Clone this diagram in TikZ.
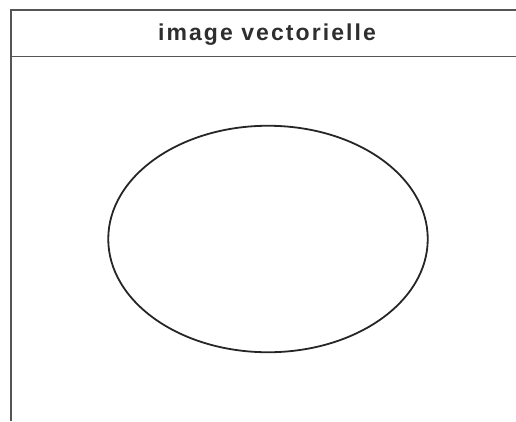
\documentclass[tikz,border=0pt]{standalone}
\usepackage{fontspec}
\usetikzlibrary{shapes.geometric}
\newfontfamily\titlefont[LetterSpace=9]{Liberation Sans}
\definecolor{frame}{HTML}{555555}
\definecolor{titletext}{HTML}{2E2E2E}
\begin{document}
\begin{tikzpicture}[x=1pt,y=-1pt,
  frameline/.style={draw=frame,line width=1.5pt},
  shapeline/.style={draw=black!85,line width=1.8pt}]
\useasboundingbox (0,0) rectangle (516,421);
\coordinate (tl) at (11,10);
\coordinate (tr) at (516,10);
\coordinate (hl) at (11,56.5);
\coordinate (hr) at (516,56.5);
\coordinate (bl) at (11,421);
\draw[frameline] (tr) -- (tl) -- (bl);
\draw[frameline] (hl) -- (hr);
\node[text=titletext,font=\titlefont\bfseries\fontsize{23}{27}\selectfont] (title) at (267,34.5) {image vectorielle};
\node[shapeline,ellipse,minimum width=319.5pt,minimum height=226.5pt,inner sep=0pt] (circle) at (268,239) {};
\end{tikzpicture}
\end{document}
